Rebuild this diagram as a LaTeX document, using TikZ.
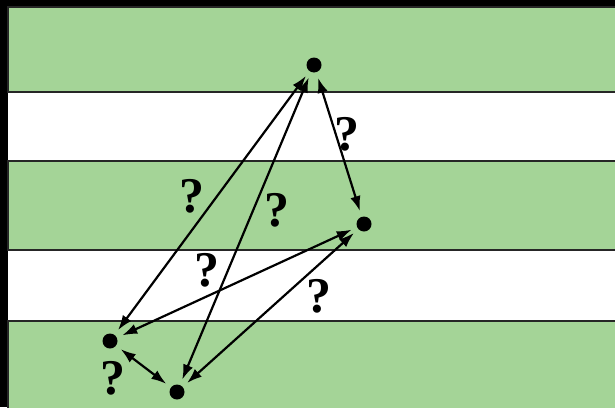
\documentclass[tikz,border=0pt]{standalone}
\usepackage{fontspec}
\setmainfont{Liberation Serif}
\usetikzlibrary{arrows.meta}

\definecolor{bandgreen}{RGB}{164,212,151}

\begin{document}
\begin{tikzpicture}[x=0.5pt,y=-0.5pt,>={Latex[length=7.5pt,width=5.2pt]},
  band/.style={fill=bandgreen,draw=black!85,line width=1.1pt},
  dot/.style={circle,fill=black,minimum size=7.5pt,inner sep=0pt,outer sep=3pt},
  link/.style={<->,line width=1.1pt},
  ask/.style={font=\fontsize{25}{25}\selectfont\bfseries,inner sep=0pt}]
\useasboundingbox (0,0) rectangle (615,407);
\fill[black] (0,0) rectangle (615,407);
\fill[white] (8,6) rectangle (615,407);
% bands
\draw[band] (8,7) rectangle (620,92);
\draw[band] (8,161) rectangle (620,250);
\draw[band] (8,321) rectangle (620,412);
% points
\node[dot] (top) at (314,65) {};
\node[dot] (right) at (364,224) {};
\node[dot] (left) at (110,341) {};
\node[dot] (bottom) at (177,392) {};
% links
\draw[link] (left) -- (top);
\draw[link] (bottom) -- (top);
\draw[link] (right) -- (top);
\draw[link] (left) -- (right);
\draw[link] (bottom) -- (right);
\draw[link] (left) -- (bottom);
% question marks
\node[ask] (q1) at (347,134) {?};
\node[ask] (q2) at (192,196) {?};
\node[ask] (q3) at (277,210) {?};
\node[ask] (q4) at (207,270) {?};
\node[ask] (q5) at (319,296) {?};
\node[ask] (q6) at (113,378) {?};
\end{tikzpicture}
\end{document}
